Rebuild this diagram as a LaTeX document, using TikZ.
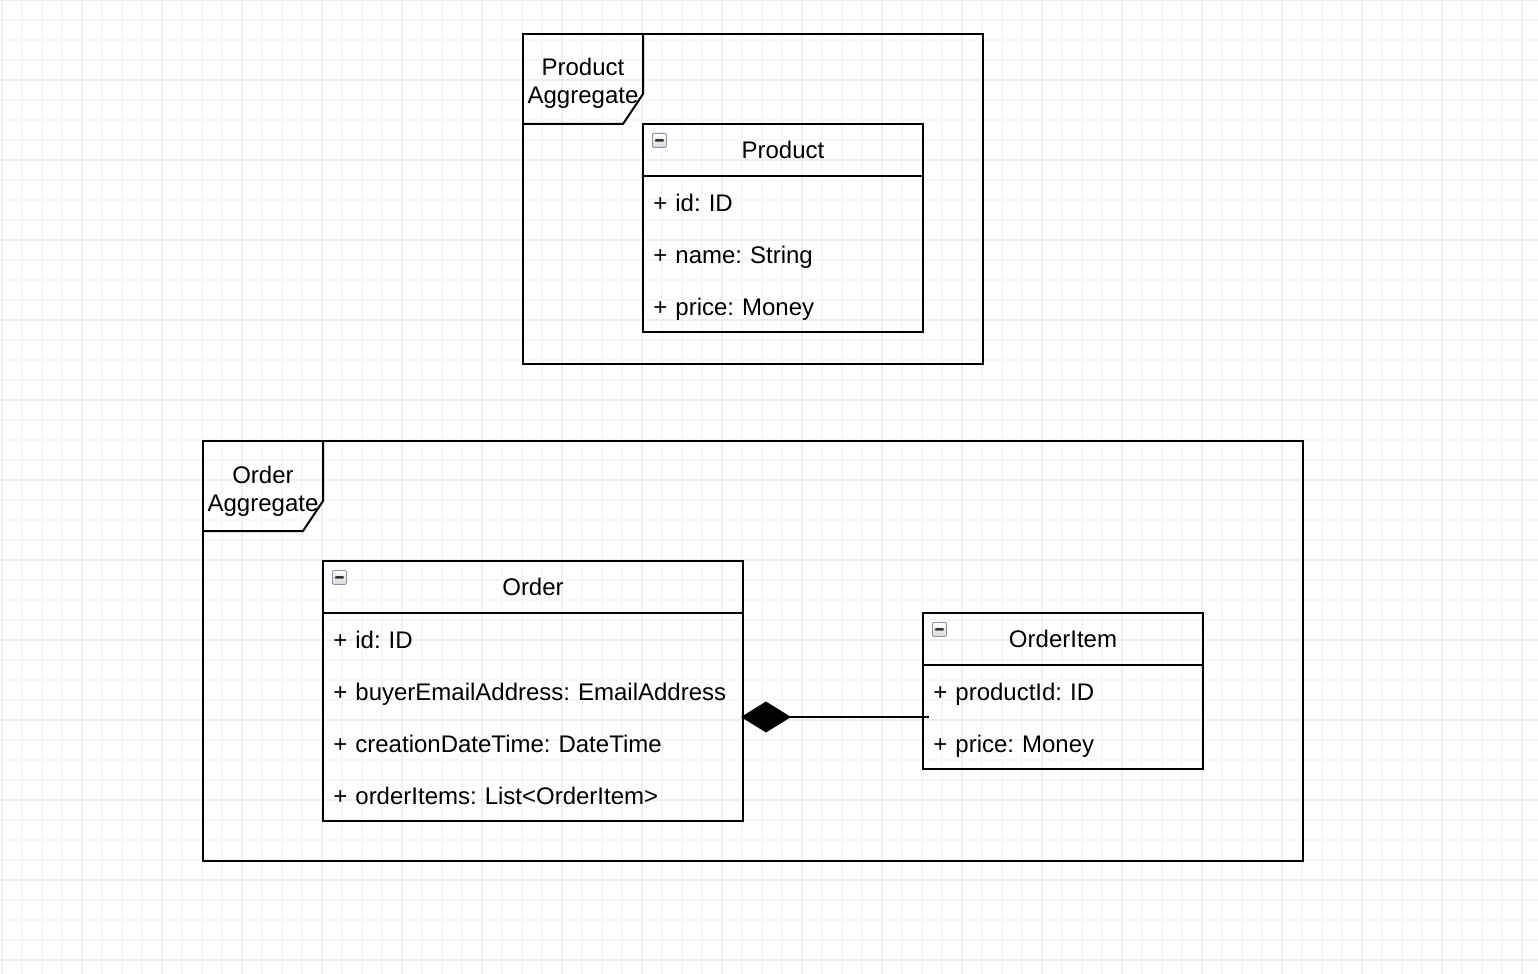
\documentclass[tikz,border=0pt]{standalone}
\usepackage{fontspec}
\setmainfont{Liberation Sans}
\usetikzlibrary{arrows.meta, positioning}
\definecolor{grminor}{HTML}{F7F7F7}
\definecolor{grmajor}{HTML}{EEEEEE}
\definecolor{iconedge}{HTML}{8A96A6}

\begin{document}
\frenchspacing
\begin{tikzpicture}[
  x=0.5pt, y=-0.5pt,
  every node/.style={font=\fontsize{12}{14}\selectfont},
  gridminor/.style={draw=grminor, line width=0.6pt},
  gridmajor/.style={draw=grmajor, line width=0.6pt},
  frame/.style={draw, line width=1pt},
  frametitle/.style={align=center, inner sep=0pt},
  classhead/.style={draw, line width=1pt, minimum width=#1, minimum height=26pt, inner sep=0pt, outer sep=0pt},
  classrow/.style={anchor=north west, minimum height=26pt, inner xsep=5.2pt, inner ysep=0pt, outer sep=0pt, text width=#1, align=left, text height=9.6pt, text depth=0pt},
  collapseicon/.style={rectangle, draw=iconedge, line width=0.4pt, rounded corners=0.6pt, minimum size=7pt, inner sep=0pt, anchor=north west,
    top color=white, bottom color=gray!30,
    path picture={\fill[black!80] ([xshift=-2.4pt,yshift=-0.6pt]path picture bounding box.center) rectangle ([xshift=2.4pt,yshift=0.6pt]path picture bounding box.center);}},
  composition/.style={draw, line width=1pt, -{Diamond[length=25pt, width=15.5pt]}},
]
\useasboundingbox (0,0) rectangle (1538,974);

% Background grid
\fill[white] (0,0) rectangle (1538,974);
\foreach \gx in {2,22,...,1522} \draw[gridminor] (\gx,0) -- (\gx,974);
\foreach \gy in {0,20,...,960} \draw[gridminor] (0,\gy) -- (1538,\gy);
\foreach \gx in {2,82,...,1522} \draw[gridmajor] (\gx,0) -- (\gx,974);
\foreach \gy in {0,80,...,960} \draw[gridmajor] (0,\gy) -- (1538,\gy);

% Product aggregate
\draw[frame] (523,34) rectangle (983,364);
\draw[frame] (523,124) -- (623,124) -- (643,94) -- (643,34);
\node[frametitle] (prodagg) at (583,83) {Product\\Aggregate};

\node[classhead=140pt] (product) at (783,150) {Product};
\node[collapseicon] (producticon) at ([shift={(4.5pt,-4.5pt)}]product.north west) {};
\node[classrow=129.6pt] (productid) at (product.south west) {+ id: ID};
\node[classrow=129.6pt] (productname) at (productid.south west) {+ name: String};
\node[classrow=129.6pt] (productprice) at (productname.south west) {+ price: Money};
\draw[frame] (product.south west) rectangle (productprice.south east);

% Order aggregate
\draw[frame] (203,441) rectangle (1303,861);
\draw[frame] (203,531) -- (303,531) -- (323,501) -- (323,441);
\node[frametitle] (orderagg) at (263,491) {Order\\Aggregate};

\node[classhead=210pt] (order) at (533,587) {Order};
\node[collapseicon] (ordericon) at ([shift={(4.5pt,-4.5pt)}]order.north west) {};
\node[classrow=199.6pt] (orderid) at (order.south west) {+ id: ID};
\node[classrow=199.6pt] (orderemail) at (orderid.south west) {+ buyerEmailAddress: EmailAddress};
\node[classrow=199.6pt] (ordertime) at (orderemail.south west) {+ creationDateTime: DateTime};
\node[classrow=199.6pt] (orderitems) at (ordertime.south west) {+ orderItems: List<OrderItem>};
\draw[frame] (order.south west) rectangle (orderitems.south east);

\node[classhead=140pt] (orderitem) at (1063,639) {OrderItem};
\node[collapseicon] (orderitemicon) at ([shift={(4.5pt,-4.5pt)}]orderitem.north west) {};
\node[classrow=129.6pt] (orderitemprod) at (orderitem.south west) {+ productId: ID};
\node[classrow=129.6pt] (orderitemprice) at (orderitemprod.south west) {+ price: Money};
\draw[frame] (orderitem.south west) rectangle (orderitemprice.south east);

% Composition
\coordinate (compstart) at ([xshift=3pt]orderitemprod.south west);
\coordinate (compend) at ([xshift=-1pt]order.east |- orderitemprod.south);
\draw[composition] (compstart) -- (compend);

\end{tikzpicture}
\end{document}
